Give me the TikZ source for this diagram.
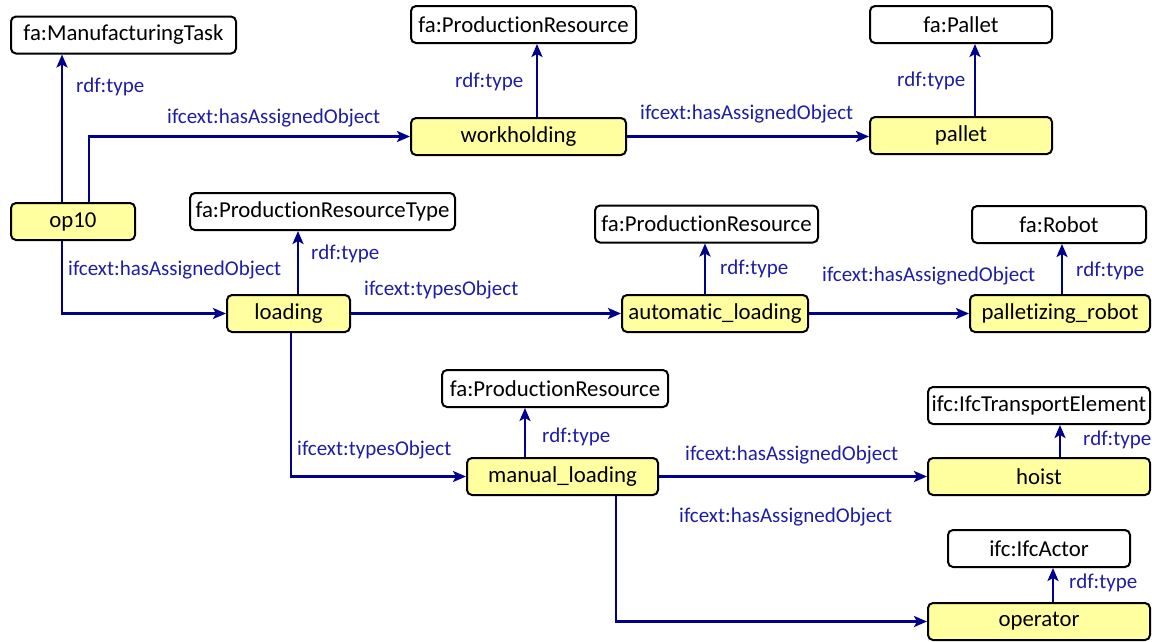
\documentclass[tikz,border=0pt]{standalone}
\usepackage{fontspec}
\setmainfont[Ligatures=NoCommon]{Carlito}
\usetikzlibrary{arrows.meta}
\definecolor{edgeblue}{RGB}{0,0,140}
\definecolor{labelblue}{RGB}{30,30,165}
\definecolor{instfill}{RGB}{255,255,160}
\tikzset{
  classbox/.style={draw=black, line width=2pt, rounded corners=5pt, fill=white,
    inner sep=0pt, minimum height=37pt, font=\fontsize{22.8}{25}\selectfont},
  instbox/.style={classbox, fill=instfill},
  arr/.style={draw=edgeblue, line width=2.6pt,
    -{Stealth[length=13pt,width=11pt,inset=3pt]}},
  lbl/.style={text=labelblue, anchor=west, inner sep=0pt,
    font=\fontsize{21}{23}\selectfont, text height=14pt, text depth=3pt}
}
\begin{document}
\begin{tikzpicture}[x=1pt,y=-1pt]
\useasboundingbox (0,0) rectangle (1152,641);

% classes (white) and instances (yellow)
\node[classbox, minimum width=225pt] (mt)       at (123.5,35)  {fa:ManufacturingTask};
\node[instbox,  minimum width=124pt] (op10)     at (73,221.5)  {op10};
\node[classbox, minimum width=225pt] (prTop)    at (523.5,24.5) {fa:ProductionResource};
\node[instbox,  minimum width=215pt] (work)     at (518.5,136.5) {workholding};
\node[classbox, minimum width=182pt] (faPallet) at (961,24.5)  {fa:Pallet};
\node[instbox,  minimum width=182pt] (pallet)   at (961,135.5) {pallet};
\node[classbox, minimum width=265pt] (prType)   at (322.5,211.5) {fa:ProductionResourceType};
\node[instbox,  minimum width=123pt] (loading)  at (288.5,313.5) {loading};
\node[classbox, minimum width=223pt] (prMid)    at (706.5,224) {fa:ProductionResource};
\node[instbox,  minimum width=186pt] (auto)     at (715,313.5) {automatic\_loading};
\node[classbox, minimum width=174pt] (faRobot)  at (1059,224.5) {fa:Robot};
\node[instbox,  minimum width=180pt] (robot)    at (1060,313.5) {palletizing\_robot};
\node[classbox, minimum width=226pt] (prLow)    at (555,388.5) {fa:ProductionResource};
\node[instbox,  minimum width=191pt] (manual)   at (562.5,476.5) {manual\_loading};
\node[classbox, minimum width=222pt] (ifcTE)    at (1039,405.5) {ifc:IfcTransportElement};
\node[instbox,  minimum width=222pt] (hoist)    at (1039,476.5) {hoist};
\node[classbox, minimum width=182pt] (ifcActor) at (1039,548.5) {ifc:IfcActor};
\node[instbox,  minimum width=222pt] (operator) at (1039,621.5) {operator};

% connectors
\draw[arr] (op10.north -| 62,0) -- (mt.south -| 62,0);
\draw[arr] (op10.north -| 89,0) |- (work.west);
\draw[arr] (work.north -| 537,0) -- (prTop.south -| 537,0);
\draw[arr] (work.east) -- (work.east -| pallet.west);
\draw[arr] (pallet.north -| 975,0) -- (faPallet.south -| 975,0);
\draw[arr] (op10.south -| 62,0) |- (loading.west);
\draw[arr] (loading.north -| 298,0) -- (prType.south -| 298,0);
\draw[arr] (loading.east) -- (auto.west);
\draw[arr] (auto.north -| 705,0) -- (prMid.south -| 705,0);
\draw[arr] (auto.east) -- (robot.west);
\draw[arr] (robot.north -| 1062,0) -- (faRobot.south -| 1062,0);
\draw[arr] (loading.south -| 291,0) |- (manual.west);
\draw[arr] (manual.north -| 525,0) -- (prLow.south -| 525,0);
\draw[arr] (manual.east) -- (hoist.west);
\draw[arr] (hoist.north -| 1060,0) -- (ifcTE.south -| 1060,0);
\draw[arr] (manual.south -| 616,0) |- (operator.west);
\draw[arr] (operator.north -| 1053,0) -- (ifcActor.south -| 1053,0);

% connector labels
\node[lbl] (l1)  at (76,87)   {rdf:type};
\node[lbl] (l2)  at (167,118) {ifcext:hasAssignedObject};
\node[lbl] (l3)  at (455,82)  {rdf:type};
\node[lbl] (l4)  at (640,114) {ifcext:hasAssignedObject};
\node[lbl] (l5)  at (897,81)  {rdf:type};
\node[lbl] (l6)  at (68,270)  {ifcext:hasAssignedObject};
\node[lbl] (l7)  at (311,254) {rdf:type};
\node[lbl] (l8)  at (364,290) {ifcext:typesObject};
\node[lbl] (l9)  at (720,269) {rdf:type};
\node[lbl] (l10) at (822,276) {ifcext:hasAssignedObject};
\node[lbl] (l11) at (1076,271) {rdf:type};
\node[lbl] (l12) at (297,450) {ifcext:typesObject};
\node[lbl] (l13) at (542,437) {rdf:type};
\node[lbl] (l14) at (685,455) {ifcext:hasAssignedObject};
\node[lbl] (l15) at (1083,440) {rdf:type};
\node[lbl] (l16) at (679,517) {ifcext:hasAssignedObject};
\node[lbl] (l17) at (1069,583) {rdf:type};
\end{tikzpicture}
\end{document}
